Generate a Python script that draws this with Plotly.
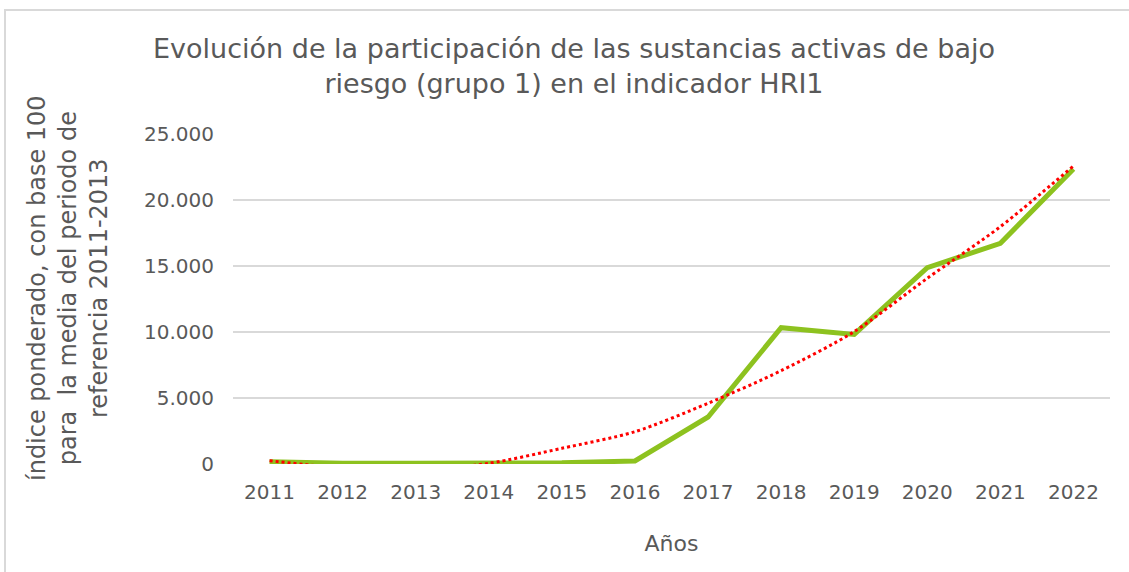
import plotly.graph_objects as go

years = [2011, 2012, 2013, 2014, 2015, 2016, 2017, 2018, 2019, 2020, 2021, 2022]
indice = [170, 60, 60, 40, 90, 230, 3560, 10330, 9820, 14870, 16720, 22350]
# polynomial trend line (goes below 0 between 2012-2014)
tendencia = [250, -300, -450, 50, 1190, 2450, 4600, 7070, 10030, 14070, 17980, 22580]
ytick_vals = [0, 5000, 10000, 15000, 20000, 25000]
ytick_text = ["0", "5.000", "10.000", "15.000", "20.000", "25.000"]

W, H = 1129, 572
L, R, T, B = 233, 19, 134, 108
pw = W - L - R
ph = H - T - B

grey = "#595959"

fig = go.Figure()
fig.add_trace(go.Scatter(x=years, y=indice, mode="lines",
                         line=dict(color="#8DC21F", width=5),
                         name="Índice"))
fig.add_trace(go.Scatter(x=years, y=tendencia, mode="lines",
                         line=dict(color="#FF0000", width=3, dash="dot",
                                   shape="spline", smoothing=0.8),
                         name="Tendencia"))

fig.update_layout(
    width=W, height=H,
    margin=dict(l=L, r=R, t=T, b=B),
    paper_bgcolor="white", plot_bgcolor="white",
    showlegend=False,
    font=dict(family="DejaVu Sans", color=grey),
    title=dict(text="Evolución de la participación de las sustancias activas de bajo<br>"
                    "riesgo (grupo 1) en el indicador HRI1",
               font=dict(family="DejaVu Sans", size=27, color=grey),
               x=574 / W, xanchor="center", xref="container",
               y=1 - 58 / H, yanchor="top", yref="container"),
    xaxis=dict(range=[2010.5, 2022.5], tickvals=years,
               ticktext=[str(y) for y in years],
               showgrid=False, zeroline=False, showline=False,
               ticks="", ticklabelstandoff=14,
               tickfont=dict(size=20, color=grey),
               title=dict(text="Años", font=dict(size=22, color=grey),
                          standoff=32)),
    yaxis=dict(range=[0, 25000], tickvals=ytick_vals, ticktext=ytick_text,
               showgrid=True, gridcolor="#D9D9D9", gridwidth=1.5,
               zeroline=False, showline=False, ticks="",
               ticklabelstandoff=18,
               tickfont=dict(size=20, color=grey)),
)

fig.add_annotation(
    text="índice ponderado, con base 100<br>para  la media del periodo de<br>referencia 2011-2013",
    textangle=-90, showarrow=False,
    xref="paper", yref="paper",
    x=(68 - L) / pw, y=(H - B - 288) / ph,
    xanchor="center", yanchor="middle",
    font=dict(size=24, color=grey),
)

# outer chart border
fig.add_shape(type="rect", xref="paper", yref="paper",
              x0=(5 - L) / pw, x1=(W + 10 - L) / pw,
              y0=(H - B - (H + 10)) / ph, y1=(H - B - 10) / ph,
              line=dict(color="#D9D9D9", width=2), layer="below")

fig.write_html("out.html", config={"displayModeBar": False},
               post_script="document.body.style.margin='0';")
